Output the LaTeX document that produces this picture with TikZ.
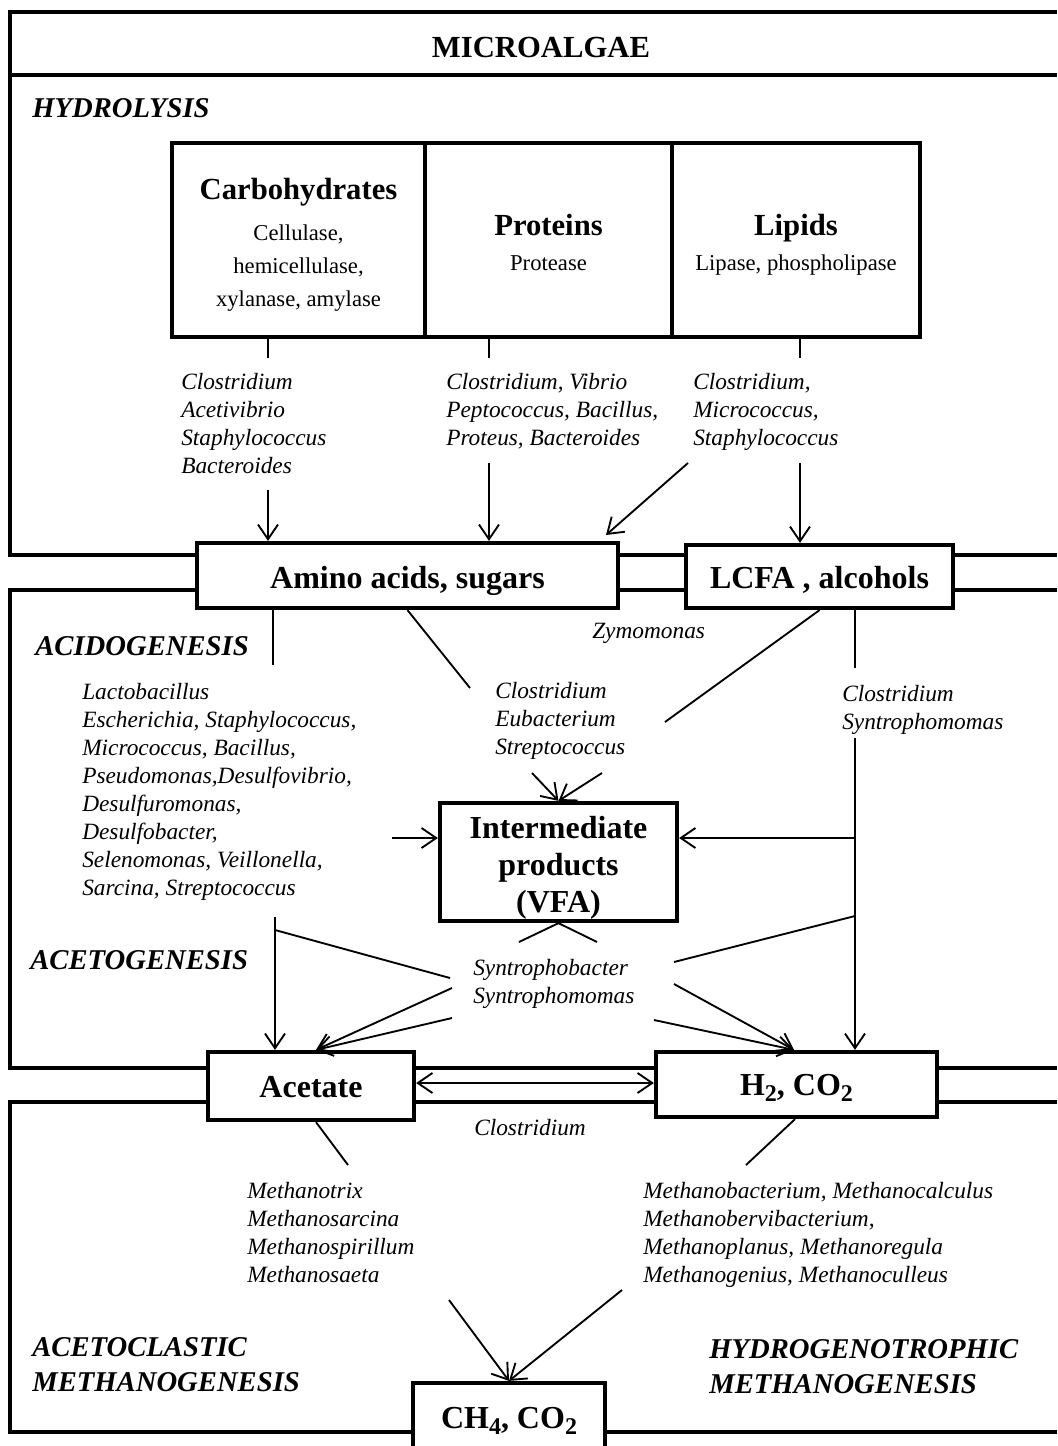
\documentclass[tikz,border=0pt]{standalone}
\usepackage{fontspec}
\setmainfont{Liberation Serif}
\usetikzlibrary{arrows.meta,fit}
\newcommand\mysub[1]{\raisebox{-5pt}{\fontsize{18}{20}\selectfont #1}}
\begin{document}
\begin{tikzpicture}[x=0.75pt,y=-0.75pt,
 panel/.style={line width=3pt},
 boxn/.style={draw,line width=3.2pt,fill=white,inner sep=0pt},
 con/.style={line width=1.4pt},
 arr/.style={con,-{Straight Barb[length=11pt,width=15pt]}},
 darr/.style={con,{Straight Barb[length=11pt,width=15pt]}-{Straight Barb[length=11pt,width=15pt]}},
 lst/.style={anchor=north west,inner sep=0pt,align=left,font=\fontsize{17.5}{21}\selectfont\itshape},
 itl/.style={anchor=base west,inner sep=0pt,font=\fontsize{17.5}{21}\selectfont\itshape},
 stage/.style={anchor=base west,inner sep=0pt,font=\fontsize{21.5}{26}\selectfont\bfseries\itshape},
 btxt/.style={anchor=base,inner sep=0pt,font=\fontsize{24}{28}\selectfont\bfseries},
 ttl/.style={anchor=base,inner sep=0pt,font=\fontsize{23}{28}\selectfont\bfseries},
 enz/.style={anchor=base,inner sep=0pt,align=center,font=\fontsize{17}{24.75}\selectfont},
]
\useasboundingbox (0,0) rectangle (1057,1446);
\clip (0,0) rectangle (1057,1446);

% panels
\draw[panel] (1057,12) -- (10,12) -- (10,555) -- (1057,555);
\draw[panel] (10,75) -- (1057,75);
\draw[panel] (1057,590) -- (10,590) -- (10,1068) -- (1057,1068);
\draw[panel] (1057,1102) -- (10,1102) -- (10,1432) -- (1057,1432);

% boxes
\node[boxn,fit={(172,143)(425,337)}] (carb) {};
\node[boxn,fit={(425,143)(672,337)}] (prot) {};
\node[boxn,fit={(672,143)(920,337)}] (lip) {};
\node[boxn,fit={(197,543)(618,608)}] (amino) {};
\node[boxn,fit={(686,545)(953,608)}] (lcfa) {};
\node[boxn,fit={(440,803)(677,921)}] (inter) {};
\node[boxn,fit={(208,1052)(414,1120)}] (acet) {};
\node[boxn,fit={(656,1052)(937,1117)}] (h2) {};
\node[boxn,fit={(413,1383)(605,1470)}] (ch4) {};

% titles
\node[anchor=base,inner sep=0pt,font=\fontsize{23}{28}\selectfont\bfseries] (micro) at (541,57) {MICROALGAE};
\node[stage] (hyd) at (32,117) {HYDROLYSIS};
\node[ttl] (carbt) at (298.5,199) {Carbohydrates};
\node[enz,anchor=north] (carbe) at (298.5,217) {\strut Cellulase,\\hemicellulase,\\xylanase, amylase};
\node[ttl] (prott) at (548.5,235) {Proteins};
\node[enz] (prote) at (548.5,270) {Protease};
\node[ttl] (lipt) at (796,235) {Lipids};
\node[enz] (lipe) at (796,270) {Lipase, phospholipase};

% hydrolysis connectors
\coordinate (h1a) at (268,358); \coordinate (h2a) at (489,358); \coordinate (h3a) at (800,358);
\draw[con] (carb.south -| h1a) -- (h1a);
\draw[con] (prot.south -| h2a) -- (h2a);
\draw[con] (lip.south -| h3a) -- (h3a);
\node[lst] (g1) at (181,370) {\strut Clostridium\\Acetivibrio\\Staphylococcus\\Bacteroides};
\node[lst] (g2) at (446,370) {\strut Clostridium, Vibrio\\Peptococcus, Bacillus,\\Proteus, Bacteroides};
\node[lst] (g3) at (693,370) {\strut Clostridium,\\Micrococcus,\\Staphylococcus};
\coordinate (h1b) at (268,490); \draw[arr] (h1b) -- (h1b |- amino.north);
\coordinate (h2b) at (489,463); \draw[arr] (h2b) -- (h2b |- amino.north);
\coordinate (h3b) at (688,463); \coordinate (h3e) at (606,535); \draw[arr] (h3b) -- (h3e);
\coordinate (h4b) at (800,463); \draw[arr] (h4b) -- (h4b |- lcfa.north);

\node[btxt] (aminot) at (407.5,588) {Amino acids, sugars};
\node[btxt] (lcfat) at (819.5,588) {LCFA , alcohols};

% acidogenesis
\node[stage] (acid) at (35,655) {ACIDOGENESIS};
\node[itl] (zym) at (592,638) {Zymomonas};
\coordinate (a1) at (273,665); \draw[con] (a1 |- amino.south) -- (a1);
\coordinate (a2) at (470,688); \draw[con] (amino.south) -- (a2);
\coordinate (a3) at (665,722); \draw[con] (lcfa.south) -- (a3);
\coordinate (a4) at (855,668); \draw[con] (a4 |- lcfa.south) -- (a4);
\node[lst] (g4) at (82,680) {\strut Lactobacillus\\Escherichia, Staphylococcus,\\Micrococcus, Bacillus,\\Pseudomonas,Desulfovibrio,\\Desulfuromonas,\\Desulfobacter,\\Selenomonas, Veillonella,\\Sarcina, Streptococcus};
\node[lst] (g5) at (495,679) {\strut Clostridium\\Eubacterium\\Streptococcus};
\node[lst] (g6) at (842,682) {\strut Clostridium\\Syntrophomomas};

\node[anchor=north,inner sep=0pt,align=center,font=\fontsize{24}{27.75}\selectfont\bfseries] (intert) at (558.5,812) {\strut Intermediate\\products\\(VFA)};
\coordinate (i1) at (532,773); \coordinate (i2) at (602,773);
\draw[arr] (i1) -- (inter.north);
\draw[arr] (i2) -- (inter.north);
\coordinate (i3) at (392,838); \draw[arr] (i3) -- (i3 -| inter.west);
\coordinate (v1) at (855,738); \coordinate (v2) at (855,838);
\draw[arr] (v2) -- (v2 -| inter.east);
\draw[arr] (v1) -- (v1 |- h2.north);

% acetogenesis
\node[stage] (aceto) at (30,969) {ACETOGENESIS};
\node[lst] (g7) at (473,956) {\strut Syntrophobacter\\Syntrophomomas};
\coordinate (s1) at (519,942); \coordinate (s2) at (597,942);
\draw[con] (inter.south) -- (s1);
\draw[con] (inter.south) -- (s2);
\coordinate (t1) at (275,917); \coordinate (t2) at (275,930); \coordinate (t3) at (450,978);
\draw[arr] (t1) -- (t1 |- acet.north);
\draw[con] (t2) -- (t3);
\coordinate (t4) at (452,988); \coordinate (t5) at (452,1018); \coordinate (ta) at (316,0);
\draw[arr] (t4) -- (acet.north -| ta);
\draw[arr] (t5) -- (acet.north -| ta);
\coordinate (r1) at (674,962); \coordinate (r2) at (855,916); \draw[con] (r1) -- (r2);
\coordinate (r3) at (674,984); \coordinate (r4) at (654,1020); \coordinate (rb) at (794,0);
\draw[arr] (r3) -- (h2.north -| rb);
\draw[arr] (r4) -- (h2.north -| rb);

\coordinate (dy) at (0,1083);
\draw[darr] (acet.east |- dy) -- (h2.west |- dy);
\node[btxt] (acett) at (311,1097) {Acetate};
\node[btxt] (h2t) at (796.5,1095) {H\mysub{2}, CO\mysub{2}};
\node[itl] (clos) at (474,1135) {Clostridium};

% methanogenesis
\coordinate (m1) at (348,1165); \coordinate (m1s) at (316,0); \draw[con] (acet.south -| m1s) -- (m1);
\coordinate (m2) at (746,1165); \coordinate (m2s) at (795,0); \draw[con] (h2.south -| m2s) -- (m2);
\node[lst] (g8) at (247,1179) {\strut Methanotrix\\Methanosarcina\\Methanospirillum\\Methanosaeta};
\node[lst] (g9) at (643,1179) {\strut Methanobacterium, Methanocalculus\\Methanobervibacterium,\\Methanoplanus, Methanoregula\\Methanogenius, Methanoculleus};
\coordinate (n1) at (449,1300); \coordinate (n2) at (622,1290); \coordinate (nb) at (509,0);
\draw[arr] (n1) -- (ch4.north -| nb);
\draw[arr] (n2) -- (ch4.north -| nb);
\node[btxt] (ch4t) at (509,1428) {CH\mysub{4}, CO\mysub{2}};
\node[stage] (acl1) at (32,1356) {ACETOCLASTIC};
\node[stage] (acl2) at (32,1391) {METHANOGENESIS};
\node[stage] (hyg1) at (709,1358) {HYDROGENOTROPHIC};
\node[stage] (hyg2) at (709,1393) {METHANOGENESIS};
\end{tikzpicture}
\end{document}
